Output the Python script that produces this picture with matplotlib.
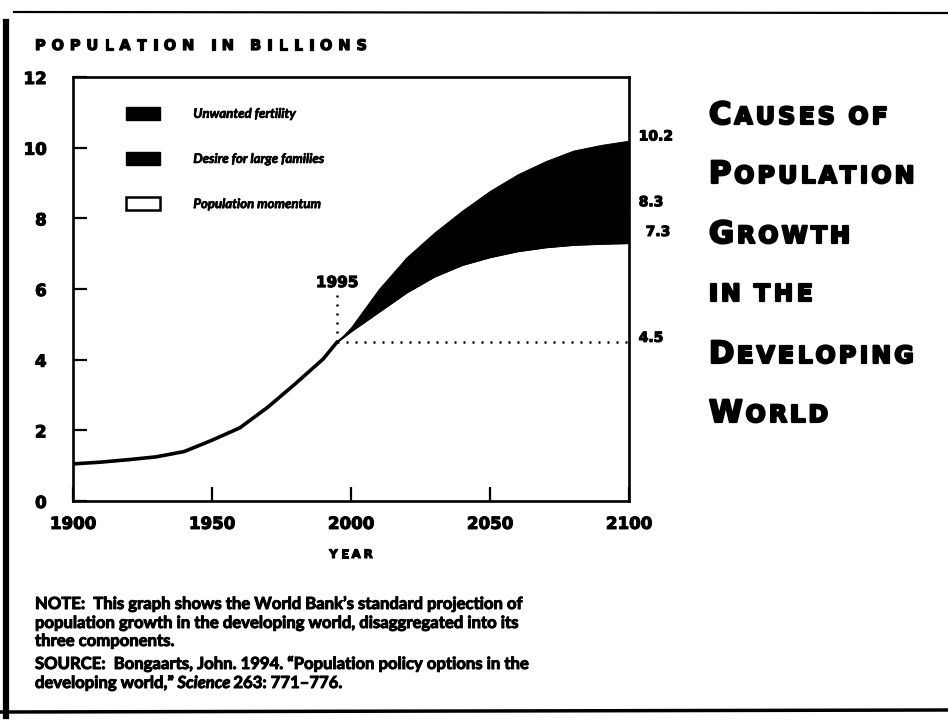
import matplotlib
matplotlib.use("Agg")
import matplotlib.pyplot as plt
from matplotlib.patches import Patch
from matplotlib.lines import Line2D
import matplotlib.patheffects as pe

# ---------------- data ----------------
years_hist = [1900, 1910, 1920, 1930, 1940, 1950, 1960, 1970, 1980, 1990, 1995]
pop_hist = [1.05, 1.10, 1.17, 1.25, 1.40, 1.72, 2.07, 2.65, 3.32, 4.02, 4.50]

years_proj = [1995, 2000, 2010, 2020, 2030, 2040, 2050, 2060, 2070, 2080, 2090, 2100]
momentum = [4.50, 4.80, 5.35, 5.90, 6.35, 6.68, 6.90, 7.07, 7.18, 7.25, 7.28, 7.30]
desire_top = [4.50, 4.84, 5.62, 6.25, 6.80, 7.20, 7.52, 7.80, 7.98, 8.12, 8.22, 8.30]
total = [4.50, 4.92, 6.00, 6.90, 7.60, 8.22, 8.78, 9.25, 9.62, 9.92, 10.08, 10.20]

legend_labels = ["Unwanted fertility", "Desire for large families", "Population momentum"]
end_values = [10.2, 8.3, 7.3, 4.5]
end_labels = ["10.2", "8.3", "7.3", "4.5"]
base_year = 1995
base_value = 4.5

x_ticks = [1900, 1950, 2000, 2050, 2100]
y_ticks = [0, 2, 4, 6, 8, 10, 12]

title_lines = [("C", "AUSES OF"), ("P", "OPULATION"), ("G", "ROWTH"),
               ("", "IN THE"), ("D", "EVELOPING"), ("W", "ORLD")]

# ---------------- figure ----------------
W, H = 948, 720
fig = plt.figure(figsize=(W / 100, H / 100), dpi=100)
fig.patch.set_facecolor("white")
SANS = "DejaVu Sans"
NOTE_FONT = "Lato"

def heavy(w=1.0):
    return [pe.withStroke(linewidth=w, foreground="black")]

def fx(px):
    return px / W

def fy(py):
    return 1 - py / H

ax = fig.add_axes([fx(73), fy(501), (629 - 73) / W, (501 - 77) / H])
ax.set_xlim(1900, 2100)
ax.set_ylim(0, 12)

ax.plot(years_hist, pop_hist, color="black", lw=2.6, solid_capstyle="round")
ax.fill_between(years_proj, momentum, desire_top, facecolor="black",
                edgecolor="black", lw=0.6)
ax.fill_between(years_proj, desire_top, total, facecolor="black",
                edgecolor="black", lw=0.6)
ax.plot(years_proj, momentum, color="black", lw=1.5)

dot = (0, (0.8, 2.8))
ax.plot([base_year, 2100], [base_value, base_value], color="black", lw=1.8,
        linestyle=dot, dash_capstyle="butt")
ax.plot([base_year, base_year], [base_value, 5.85], color="black", lw=1.8,
        linestyle=dot, dash_capstyle="butt")
ax.text(base_year, 5.97, str(base_year), ha="center", va="bottom",
        fontsize=11, fontweight="bold", family=SANS, path_effects=heavy(0.8))

offsets = [(7, 3), (7, 4), (12, 8), (7, 3)]
for v, lab, off in zip(end_values, end_labels, offsets):
    ax.annotate(lab, xy=(2100, v), xytext=off, textcoords="offset points",
                ha="left", va="center", fontsize=10, fontweight="bold",
                family=SANS, annotation_clip=False, path_effects=heavy(0.8))

for s in ax.spines.values():
    s.set_linewidth(1.9)
ax.set_xticks(x_ticks)
ax.set_yticks(y_ticks)
ax.tick_params(axis="both", direction="in", length=10, width=1.6,
               labelsize=12)
ax.tick_params(axis="y", pad=19)
ax.tick_params(axis="x", pad=10)
for lab in ax.get_xticklabels() + ax.get_yticklabels():
    lab.set_fontfamily(SANS)
    lab.set_fontweight("bold")
    lab.set_path_effects(heavy(0.8))

handles = [Patch(facecolor="black", edgecolor="black"),
           Patch(facecolor="black", edgecolor="black"),
           Patch(facecolor="white", edgecolor="black", lw=1.8)]
leg = ax.legend(handles, legend_labels, loc="upper left",
                bbox_to_anchor=((126 - 73) / 556, 1 - (107 - 77) / 424),
                frameon=False, borderpad=0, borderaxespad=0,
                handlelength=2.6, handleheight=1.1, labelspacing=2.45,
                handletextpad=2.5,
                prop={"family": NOTE_FONT, "style": "italic", "weight": "bold",
                      "size": 9.5})
for t in leg.get_texts():
    t.set_path_effects(heavy(0.5))

renderer = fig.canvas.get_renderer()

def tracked(x_px, y_px, s, size, track, ha="left", family=SANS, stroke=1.0):
    widths = []
    for ch in s:
        if ch == " ":
            widths.append(size * 100 / 72 * 0.3)
        else:
            t = fig.text(0, 0, ch, fontsize=size, fontweight="bold", family=family)
            widths.append(t.get_window_extent(renderer).width)
            t.remove()
    total_w = sum(widths) + track * (len(s) - 1)
    x = x_px - total_w / 2 if ha == "center" else x_px
    for ch, w in zip(s, widths):
        if ch != " ":
            fig.text(fx(x), fy(y_px), ch, fontsize=size, fontweight="bold",
                     family=family, va="baseline", ha="left",
                     path_effects=heavy(stroke))
        x += w + track
    return x - track

tracked(35, 50, "POPULATION IN BILLIONS", 10.5, 5.8, stroke=0.9)
tracked(351, 558, "YEAR", 8.5, 3.0, ha="center", stroke=0.8)

# title in small caps
baselines = [124, 183, 243, 301, 363, 422]
for (big, rest), yb in zip(title_lines, baselines):
    x0 = 709
    if big:
        x0 = tracked(x0, yb, big, 22, 0, stroke=1.6) + 3
    tracked(x0, yb, rest, 17, 3.2, stroke=1.6)

# notes
NS = 12
note_lines = [
    (609, "NOTE:  This graph shows the World Bank\u2019s standard projection of"),
    (628, "population growth in the developing world, disaggregated into its"),
    (646, "three components."),
    (669, "SOURCE:  Bongaarts, John. 1994. \u201cPopulation policy options in the"),
]
for yb, txt in note_lines:
    fig.text(fx(35), fy(yb), txt, fontsize=NS, fontweight="bold",
             family=NOTE_FONT, va="baseline", ha="left", path_effects=heavy(0.7))
t_a = fig.text(fx(35), fy(688), "developing world,\u201d ", fontsize=NS,
               fontweight="bold", family=NOTE_FONT, va="baseline", ha="left",
               path_effects=heavy(0.7))
xa = t_a.get_window_extent(renderer).x1
t_b = fig.text(fx(xa), fy(688), "Science", fontsize=NS, fontweight="bold",
               style="italic", family=NOTE_FONT, va="baseline", ha="left",
               path_effects=heavy(0.7))
xb = t_b.get_window_extent(renderer).x1
fig.text(fx(xb + 3), fy(688), "263: 771\u2013776.", fontsize=NS,
         fontweight="bold", family=NOTE_FONT, va="baseline", ha="left",
         path_effects=heavy(0.7))

# scanned page frame
fig.add_artist(Line2D([fx(14), fx(948)], [fy(12), fy(13)], color="black", lw=1.6))
fig.add_artist(Line2D([fx(6), fx(6)], [fy(22), fy(716)], color="black", lw=4.5))
fig.add_artist(Line2D([fx(0), fx(948)], [fy(712), fy(710)], color="black", lw=2.5))

fig.savefig("out.png", dpi=100)
